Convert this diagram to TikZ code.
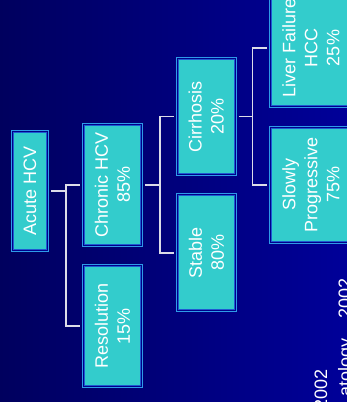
\documentclass[tikz,border=0pt]{standalone}
\usepackage{fontspec}
\setmainfont{Liberation Sans}
\usetikzlibrary{positioning}

\definecolor{bgdark}{HTML}{00005E}
\definecolor{bglight}{HTML}{000099}
\definecolor{boxfill}{HTML}{33CCCC}
\definecolor{boxline}{HTML}{1E5AD2}
\definecolor{boxgap}{HTML}{00008A}
\definecolor{boxrim}{HTML}{2E9BE8}
\definecolor{linkgray}{HTML}{DCDCE8}

\begin{document}
\begin{tikzpicture}[x = 1pt, y = -1pt,
		box/.style = {rotate = 90, inner sep = 0pt, outer sep = 4.5pt, fill = boxfill, draw = boxline, line width = 1pt, text = white, align = center, font = \fontsize{18}{22}\selectfont, preaction = {draw = boxrim, line width = 5pt}, preaction = {draw = boxgap, line width = 3pt}},
		link/.style = {draw = linkgray, line width = 1.8pt},
		cite/.style = {anchor = base east, rotate = 90, inner sep = 0pt, text = white, font = \fontsize{18}{22}\selectfont}]
					\useasboundingbox (0, 0) rectangle (347, 402);
					\clip (0, 0) rectangle (347, 402);
					\shade [left color = bgdark, right color = bglight] (0, 0) rectangle (347, 402);
					\node (acute) at (30, 191) [box, minimum width = 117pt, minimum height = 33pt] {Acute HCV};
					\node (chronic) at (112.5, 184.7) [box, minimum width = 119pt, minimum height = 56.5pt] {Chronic HCV\\85\%};
					\node (resolution) at (112.5, 326) [box, minimum width = 119pt, minimum height = 56pt] {Resolution\\15\%};
					\node (cirrhosis) at (206.3, 116.5) [box, minimum width = 113.5pt, minimum height = 56pt] {Cirrhosis\\20\%};
					\node (stable) at (206.5, 252.8) [box, minimum width = 114pt, minimum height = 56pt] {Stable\\80\%};
					\node (failure) at (311, 48) [box, minimum width = 114.5pt, minimum height = 80pt] {Liver Failure\\HCC\\25\%};
					\node (slowly) at (311, 184.9) [box, minimum width = 113.5pt, minimum height = 80pt] {Slowly\\Progressive\\75\%};
					\draw [link] (acute.south) -- ++(15, 0);
					\draw [link] (chronic.north) -- ++(-14, 0) |- (resolution.north);
					\draw [link] (chronic.south) -- ++(14, 0);
					\draw [link] (cirrhosis.north) -- ++(-14, 0) |- (stable.north);
					\draw [link] (cirrhosis.south) -- ++(14, 0);
					\draw [link] (failure.north) -- ++(-14, 0) |- (slowly.north);
					\node (citeyear) at (327, 369) [cite] {2002};
					\node (citejournal) at (351, 278) [cite] {atology\hspace{20pt}2002};
				\end{tikzpicture}
\end{document}
